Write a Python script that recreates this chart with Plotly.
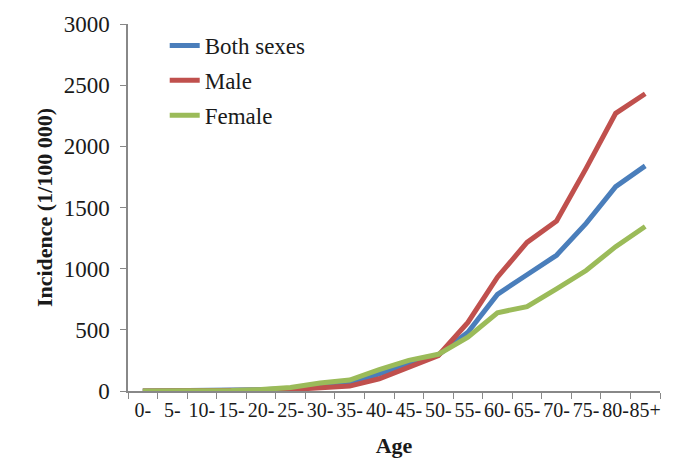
import plotly.graph_objects as go

ages = ["0-", "5-", "10-", "15-", "20-", "25-", "30-", "35-", "40-", "45-",
        "50-", "55-", "60-", "65-", "70-", "75-", "80-", "85+"]

both = [1, 1, 2, 4, 10, 20, 45, 60, 140, 220, 295, 480, 790, 950, 1110, 1370, 1670, 1840]
male = [1, 1, 2, 3, 6, 12, 30, 40, 100, 190, 290, 560, 930, 1215, 1390, 1820, 2270, 2430]
female = [1, 1, 2, 5, 12, 28, 65, 90, 175, 250, 300, 440, 640, 690, 835, 985, 1180, 1345]

font = "Liberation Serif"

fig = go.Figure()
for name, vals, color in [("Both sexes", both, "#4a7ebb"),
                          ("Male", male, "#c0504d"),
                          ("Female", female, "#9bbb59")]:
    fig.add_trace(go.Scatter(
            x=ages,
            y=vals,
            mode="lines",
            name=name,
            legendgroup=name,
            line=dict(color=color, width=5)
        )
    )

# page body has an 8px margin, so the figure is a bit smaller than the window
fig.update_layout(
    width=665,
    height=461,
    margin=dict(l=120, r=13, t=16, b=78),
    paper_bgcolor="white",
    plot_bgcolor="white",
    font=dict(family=font, size=23, color="#1a1a1a"),
    showlegend=True,
    legend=dict(
        x=0.069, y=1.0, xanchor="left", yanchor="top",
        bgcolor="rgba(0,0,0,0)",
        traceorder="grouped",
        tracegroupgap=2,
        font=dict(family=font, size=23, color="#1a1a1a")
    ),
    xaxis=dict(
        title=dict(text="<b>Age</b>", standoff=18, font=dict(size=22)),
        automargin=False,
        type="category",
        range=[-0.5, 17.5],
        showline=True, linecolor="#888", linewidth=1.5,
        ticks="outside", ticklen=6, tickcolor="#888",
        tickson="boundaries",
        showgrid=False, zeroline=False,
        tickangle=0,
        tickfont=dict(size=20),
    ),
    yaxis=dict(
        title=dict(text="<b>Incidence (1/100 000)</b>", standoff=5, font=dict(size=22)),
        automargin=False,
        range=[0, 3000],
        dtick=500,
        showline=True, linecolor="#888", linewidth=1.5,
        ticks="outside", ticklen=6, tickcolor="#888",
        showgrid=False, zeroline=False,
        ticklabelstandoff=6,
    ),
)

fig.write_html("out.html")
